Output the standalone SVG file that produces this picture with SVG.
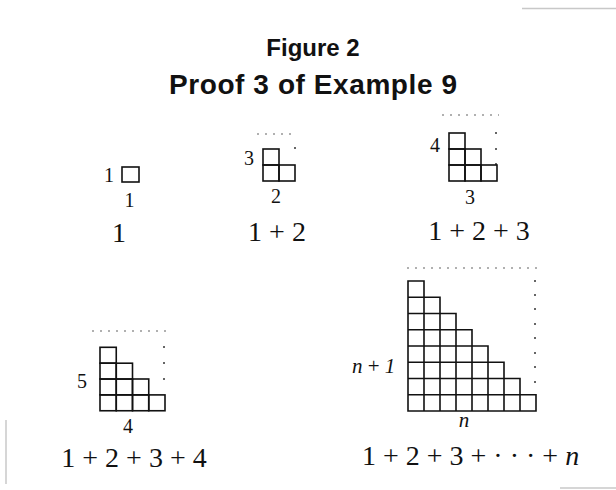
<svg xmlns="http://www.w3.org/2000/svg" width="616" height="490" viewBox="0 0 616 490">
<style>
.cell{fill:none;stroke:#111;stroke-width:1.6}
.dots{fill:none;stroke:#b0b0b0;stroke-width:2;stroke-dasharray:2 6}
.vdot{fill:#333}
.t{font-family:"Liberation Serif","Times New Roman",serif;fill:#111}
.lab{font-size:20px;text-anchor:middle}
.sum{font-size:28px}
.it{font-style:italic}
.title{font-family:"Liberation Sans",Arial,sans-serif;font-weight:bold;fill:#111}
.scan{stroke:#c8c8c8;stroke-width:1.5;fill:none}
</style>
<rect width="616" height="490" fill="#fff"/>
<g id="scan-marks">
<line class="scan" x1="522" y1="8.5" x2="616" y2="8.5"/>
<line class="scan" x1="6" y1="420" x2="6" y2="484"/>
<line class="scan" x1="560" y1="488" x2="616" y2="488"/>
</g>
<g id="title">
<text class="title" x="313" y="56" font-size="24" text-anchor="middle">Figure 2</text>
<text class="title" x="169" y="94" font-size="28" textLength="288" lengthAdjust="spacing">Proof 3 of Example 9</text>
</g>
<g id="fig1">
<rect class="cell" x="122" y="167" width="17" height="15"/>
<text class="t lab" x="109" y="182" font-size="21">1</text>
<text class="t lab" x="129.5" y="207" font-size="21">1</text>
<text class="t sum" x="119" y="241.5" text-anchor="middle">1</text>
</g>
<g id="fig2">
<line class="dots" x1="257" y1="134" x2="296" y2="134"/>
<circle class="vdot" cx="295" cy="148" r="1"/>
<rect class="cell" x="263" y="149" width="16" height="16"/>
<rect class="cell" x="263" y="165" width="16" height="16"/>
<rect class="cell" x="279" y="165" width="16" height="16"/>
<text class="t lab" x="249" y="165">3</text>
<text class="t lab" x="276" y="203">2</text>
<text class="t sum" x="277" y="241" text-anchor="middle">1 + 2</text>
</g>
<g id="fig3">
<line class="dots" x1="442" y1="115" x2="499" y2="115"/>
<circle class="vdot" cx="496" cy="133" r="1"/>
<circle class="vdot" cx="496" cy="149" r="1"/>
<circle class="vdot" cx="496" cy="164" r="1"/>
<rect class="cell" x="449" y="133" width="16" height="16"/>
<rect class="cell" x="449" y="149" width="16" height="16"/>
<rect class="cell" x="465" y="149" width="16" height="16"/>
<rect class="cell" x="449" y="165" width="16" height="16"/>
<rect class="cell" x="465" y="165" width="16" height="16"/>
<rect class="cell" x="481" y="165" width="16" height="16"/>
<text class="t lab" x="435" y="152">4</text>
<text class="t lab" x="470" y="204">3</text>
<text class="t sum" x="479" y="240" text-anchor="middle">1 + 2 + 3</text>
</g>
<g id="fig4">
<line class="dots" x1="92" y1="331" x2="171" y2="331"/>
<circle class="vdot" cx="164" cy="347" r="1"/>
<circle class="vdot" cx="164" cy="363" r="1"/>
<circle class="vdot" cx="164" cy="379" r="1"/>
<rect class="cell" x="100" y="347.3" width="16.25" height="15.85"/>
<rect class="cell" x="100" y="363.2" width="16.25" height="15.85"/>
<rect class="cell" x="116.25" y="363.2" width="16.25" height="15.85"/>
<rect class="cell" x="100" y="379" width="16.25" height="15.85"/>
<rect class="cell" x="116.25" y="379" width="16.25" height="15.85"/>
<rect class="cell" x="132.5" y="379" width="16.25" height="15.85"/>
<rect class="cell" x="100" y="394.9" width="16.25" height="15.85"/>
<rect class="cell" x="116.25" y="394.9" width="16.25" height="15.85"/>
<rect class="cell" x="132.5" y="394.9" width="16.25" height="15.85"/>
<rect class="cell" x="148.75" y="394.9" width="16.25" height="15.85"/>
<text class="t lab" x="82" y="388">5</text>
<text class="t lab" x="128" y="433">4</text>
<text class="t sum" x="134" y="467" text-anchor="middle">1 + 2 + 3 + 4</text>
</g>
<g id="fign">
<line class="dots" x1="407" y1="268" x2="541" y2="268"/>
<g class="vdot">
<circle cx="535" cy="281" r="1"/><circle cx="535" cy="295" r="1"/><circle cx="535" cy="309" r="1"/><circle cx="535" cy="324" r="1"/>
<circle cx="535" cy="338" r="1"/><circle cx="535" cy="353" r="1"/><circle cx="535" cy="367" r="1"/><circle cx="535" cy="382" r="1"/>
</g>
<path class="cell" d="M408 281H424V297.25H408Z M408 297.25H440V313.5H408Z M408 313.5H456V329.75H408Z M408 329.75H472V346H408Z M408 346H488V362.25H408Z M408 362.25H504V378.5H408Z M408 378.5H520V394.75H408Z M408 394.75H536V411H408Z M424 297.25V411 M440 313.5V411 M456 329.75V411 M472 346V411 M488 362.25V411 M504 378.5V411 M520 394.75V411"/>
<text class="t it" x="352" y="373" font-size="21">n <tspan font-style="normal">+</tspan> 1</text>
<text class="t it" x="464" y="427" font-size="21" text-anchor="middle">n</text>
<text class="t sum" x="362" y="465">1 + 2 + 3 + · · · + <tspan class="it">n</tspan></text>
</g>
<g id="connectors"/>
</svg>
